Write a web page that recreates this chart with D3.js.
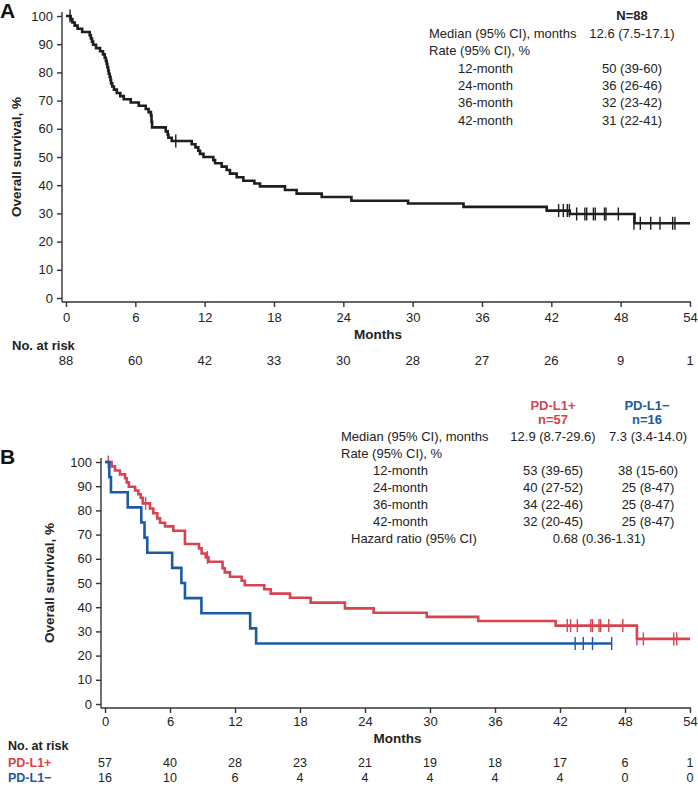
<!DOCTYPE html>
<html>
<head>
<meta charset="utf-8">
<script src="https://cdn.jsdelivr.net/npm/d3@7"></script>
<style>
  body { margin: 0; background: #fff; }
  svg { display: block; font-family: 'Liberation Sans', Arial, sans-serif; }
  .tick text { font-size: 13px; fill: #222; }
  .tick line, .axisLine { stroke: #333; stroke-width: 1.4; }
</style>
</head>
<body>
<svg id="chart" width="698" height="786"></svg>
<script>
const monthTicks = [0, 6, 12, 18, 24, 30, 36, 42, 48, 54];
const survivalTicks = [0, 10, 20, 30, 40, 50, 60, 70, 80, 90, 100];

// panel A - all patients, [month, survival %] after each drop
const allSteps = [
  [0.4, 98.9], [0.55, 97.7], [0.75, 96.6], [1.0, 95.5], [1.4, 94.3],
  [2.05, 93.2], [2.15, 92.0], [2.25, 90.9], [2.35, 89.8], [2.6, 88.6],
  [2.95, 87.5], [3.2, 86.4], [3.35, 85.2], [3.45, 84.1], [3.52, 83.0],
  [3.58, 81.8], [3.65, 80.7], [3.7, 79.5], [3.78, 78.4], [3.85, 77.3],
  [3.9, 76.1], [4.0, 75.0], [4.15, 73.9], [4.4, 72.7], [4.7, 71.6],
  [5.0, 70.5], [5.6, 69.3], [6.3, 68.2], [6.9, 67.0], [7.15, 65.9],
  [7.35, 64.8], [7.4, 62.5], [7.45, 60.5], [8.63, 59.1], [8.8, 58.0],
  [8.86, 56.8], [9.15, 55.7], [10.88, 54.5], [11.2, 53.4], [11.45, 52.2],
  [11.6, 51.1], [11.9, 50.0], [12.75, 48.9], [12.9, 47.8], [13.47, 46.6],
  [13.9, 45.4], [14.19, 44.1], [14.77, 42.8], [15.35, 41.6], [16.3, 40.6],
  [16.79, 39.6], [18.95, 38.3], [19.96, 37.0], [22.13, 35.8], [24.7, 34.5],
  [29.6, 33.5], [34.4, 32.3], [41.6, 31.0], [43.6, 29.8], [49.2, 26.5]
];
const allCensored = [
  [0.35, 100], [9.5, 55.7], [42.63, 31.0], [43.04, 31.0], [43.38, 31.0],
  [43.56, 31.0], [44.19, 29.8], [44.9, 29.8], [45.06, 29.8], [45.64, 29.8],
  [45.8, 29.8], [46.6, 29.8], [46.73, 29.8], [47.8, 29.8], [49.15, 26.5],
  [49.7, 26.5], [50.6, 26.5], [51.4, 26.5], [52.5, 26.5], [52.7, 26.5]
];
const allAtRisk = [88, 60, 42, 33, 30, 28, 27, 26, 9, 1];

// panel B - PD-L1+ and PD-L1-
const posSteps = [
  [0.61, 98.2], [0.92, 96.5], [1.38, 94.9], [1.85, 93.3], [2.0, 91.6],
  [2.2, 89.8], [2.77, 88.2], [3.08, 86.7], [3.3, 85.2], [3.48, 82.9],
  [4.15, 80.8], [4.46, 78.8], [4.83, 76.7], [5.08, 74.9], [5.54, 73.4],
  [6.31, 71.6], [7.38, 66.1], [8.68, 64.3], [8.92, 62.2], [9.3, 60.6],
  [9.55, 58.8], [10.85, 56.1], [11.06, 54.4], [11.54, 52.6], [12.62, 50.9],
  [12.9, 49.1], [14.7, 47.4], [15.3, 45.6], [17.08, 43.9], [18.98, 41.9],
  [22.15, 39.5], [24.8, 37.7], [29.7, 36.0], [34.45, 34.3], [41.6, 32.4],
  [49.1, 26.9]
];
const posCensored = [
  [0.3, 100], [3.75, 82.9], [9.45, 60.6], [42.67, 32.4], [42.98, 32.4],
  [43.6, 32.4], [44.85, 32.4], [45.0, 32.4], [45.6, 32.4], [45.75, 32.4],
  [46.5, 32.4], [47.8, 32.4], [49.1, 26.9], [49.7, 26.9], [52.5, 26.9],
  [52.77, 26.9]
];
const posAtRisk = [57, 40, 28, 23, 21, 19, 18, 17, 6, 1];

const negSteps = [
  [0.4, 93.75], [0.55, 87.5], [2.1, 81.25], [3.35, 75.0], [3.65, 68.75],
  [3.9, 62.5], [6.2, 56.25], [7.05, 50.0], [7.38, 43.75], [8.9, 37.5],
  [13.4, 31.25], [13.95, 25.0]
];
const negCensored = [[43.4, 25], [44.15, 25], [45.0, 25], [46.77, 25]];
const negAtRisk = [16, 10, 6, 4, 4, 4, 4, 4, 0, 0];

const tableALabels = ['Median (95% CI), months', 'Rate (95% CI), %', '12-month', '24-month', '36-month', '42-month'];
const tableAValues = ['12.6 (7.5-17.1)', '', '50 (39-60)', '36 (26-46)', '32 (23-42)', '31 (22-41)'];

const tableBLabels = ['Median (95% CI), months', 'Rate (95% CI), %', '12-month', '24-month', '36-month', '42-month', 'Hazard ratio (95% CI)'];
const tableBPos = ['12.9 (8.7-29.6)', '', '53 (39-65)', '40 (27-52)', '34 (22-46)', '32 (20-45)', ''];
const tableBNeg = ['7.3 (3.4-14.0)', '', '38 (15-60)', '25 (8-47)', '25 (8-47)', '25 (8-47)', ''];
const hazardRatio = '0.68 (0.36-1.31)';

const black = '#1e1e1e', red = '#d8434f', blue = '#1b5aa6', textCol = '#222';

const svg = d3.select('#chart');

function panel(opt) {
  const x = d3.scaleLinear().domain([0, 54]).range([opt.x0, 690]);
  const y = d3.scaleLinear().domain([0, 100]).range([opt.yBottom, opt.yTop]);
  const axisX = opt.x0 - 4, axisY = opt.yBottom + 4;

  const g = svg.append('g');

  g.append('g')
    .attr('transform', `translate(${axisX},0)`)
    .call(d3.axisLeft(y).tickValues(survivalTicks).tickSize(5).tickPadding(4))
    .call(a => a.select('.domain').remove());

  g.append('g')
    .attr('transform', `translate(0,${axisY})`)
    .call(d3.axisBottom(x).tickValues(monthTicks).tickSize(5).tickPadding(opt.xPad))
    .call(a => a.select('.domain').remove());

  g.append('line').attr('class', 'axisLine')
    .attr('x1', axisX).attr('x2', axisX)
    .attr('y1', opt.yTop - 4).attr('y2', axisY);
  g.append('line').attr('class', 'axisLine')
    .attr('x1', axisX).attr('x2', x(54) + 1)
    .attr('y1', axisY).attr('y2', axisY);

  const line = d3.line()
    .curve(d3.curveStepAfter)
    .x(d => x(d[0]))
    .y(d => y(d[1]));

  opt.series.forEach(s => {
    const pts = [[0, 100]].concat(s.steps);
    pts.push([s.end, s.steps[s.steps.length - 1][1]]);
    g.append('path')
      .datum(pts)
      .attr('fill', 'none')
      .attr('stroke', s.color)
      .attr('stroke-width', 2.6)
      .attr('d', line);

    g.selectAll(null)
      .data(s.censored)
      .join('line')
      .attr('x1', d => x(d[0])).attr('x2', d => x(d[0]))
      .attr('y1', d => y(d[1]) - 6.5).attr('y2', d => y(d[1]) + 6.5)
      .attr('stroke', s.color)
      .attr('stroke-width', 1.4);
  });

  // panel letter
  g.append('text')
    .attr('x', 0).attr('y', opt.letterY)
    .attr('font-size', 21).attr('font-weight', 'bold').attr('fill', '#111')
    .text(opt.letter);

  g.append('text')
    .attr('transform', `translate(${opt.titleX},${(opt.yTop + opt.yBottom) / 2}) rotate(-90)`)
    .attr('dy', '0.35em')
    .attr('text-anchor', 'middle')
    .attr('font-size', 13.5).attr('font-weight', 'bold').attr('fill', textCol)
    .text('Overall survival, %');

  g.append('text')
    .attr('x', (x(0) + x(54)) / 2).attr('y', opt.monthsY)
    .attr('text-anchor', 'middle')
    .attr('font-size', 13.5).attr('font-weight', 'bold').attr('fill', textCol)
    .text('Months');

  g.append('text')
    .attr('x', opt.riskLabelX).attr('y', opt.riskTitleY)
    .attr('font-size', opt.riskFont).attr('font-weight', 'bold').attr('fill', textCol)
    .text('No. at risk');

  opt.series.forEach((s, i) => {
    const rowY = opt.riskRowY[i];
    if (s.label) {
      g.append('text')
        .attr('x', opt.riskLabelX).attr('y', rowY)
        .attr('font-size', opt.riskFont).attr('font-weight', 'bold').attr('fill', s.color)
        .text(s.label);
    }
    g.selectAll(null)
      .data(s.atRisk)
      .join('text')
      .attr('x', (d, j) => x(monthTicks[j]))
      .attr('y', rowY)
      .attr('text-anchor', 'middle')
      .attr('font-size', opt.riskFont).attr('fill', textCol)
      .text(d => d);
  });
}

panel({
  letter: 'A', letterY: 18, x0: 66, yTop: 16, yBottom: 298, titleX: 16, xPad: 6,
  monthsY: 339, riskTitleY: 350, riskLabelX: 12, riskRowY: [365], riskFont: 13,
  series: [{ steps: allSteps, censored: allCensored, end: 54, color: black, atRisk: allAtRisk }]
});

panel({
  letter: 'B', letterY: 464, x0: 105, yTop: 462, yBottom: 704, titleX: 49, xPad: 4,
  monthsY: 743, riskTitleY: 750, riskLabelX: 8, riskRowY: [767, 781.5], riskFont: 12.5,
  series: [
    { steps: posSteps, censored: posCensored, end: 54, color: red, atRisk: posAtRisk, label: 'PD-L1+' },
    { steps: negSteps, censored: negCensored, end: 46.77, color: blue, atRisk: negAtRisk, label: 'PD-L1\u2212' }
  ]
});

// table A
const tA = svg.append('g').attr('font-size', 13).attr('fill', textCol);
tA.append('text').attr('x', 632).attr('y', 20).attr('text-anchor', 'middle')
  .attr('font-weight', 'bold').text('N=88');
tableALabels.forEach((lab, i) => {
  const yy = 38 + i * 17.3;
  tA.append('text').attr('x', i >= 2 ? 458 : 429).attr('y', yy).text(lab);
  tA.append('text').attr('x', 632).attr('y', yy).attr('text-anchor', 'middle').text(tableAValues[i]);
});

// table B
const tB = svg.append('g').attr('font-size', 13).attr('fill', textCol);
[['PD-L1+', 'n=57', red, 553], ['PD-L1\u2212', 'n=16', blue, 647]].forEach(h => {
  tB.append('text').attr('x', h[3]).attr('y', 410).attr('text-anchor', 'middle')
    .attr('font-weight', 'bold').attr('fill', h[2]).text(h[0]);
  tB.append('text').attr('x', h[3]).attr('y', 424).attr('text-anchor', 'middle')
    .attr('font-weight', 'bold').attr('fill', h[2]).text(h[1]);
});
tableBLabels.forEach((lab, i) => {
  const yy = 441 + i * 17;
  const lx = i === 6 ? 351 : (i >= 2 ? 373 : 341);
  tB.append('text').attr('x', lx).attr('y', yy).text(lab);
  tB.append('text').attr('x', 553).attr('y', yy).attr('text-anchor', 'middle').text(tableBPos[i]);
  tB.append('text').attr('x', 648).attr('y', yy).attr('text-anchor', 'middle').text(tableBNeg[i]);
});
tB.append('text').attr('x', 599).attr('y', 441 + 6 * 17).attr('text-anchor', 'middle').text(hazardRatio);
</script>
</body>
</html>
